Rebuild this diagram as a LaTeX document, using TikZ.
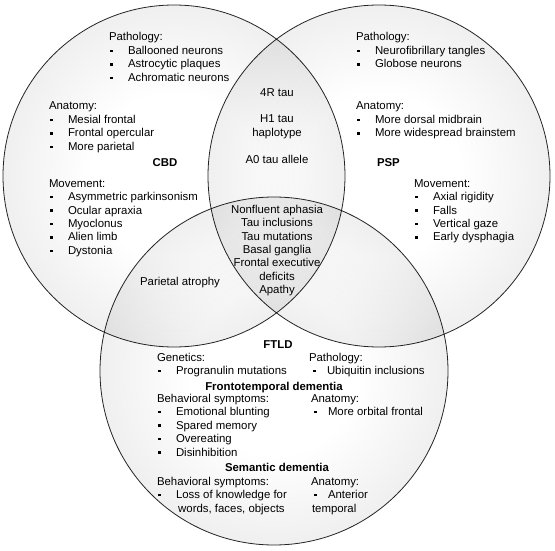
\documentclass[tikz,border=0pt]{standalone}
\usepackage{fontspec}
\setmainfont{Liberation Sans}
\pgfdeclareradialshading{venn}{\pgfpoint{0bp}{0bp}}{color(0bp)=(white); color(12bp)=(white); color(50bp)=(black!18); color(100bp)=(black!18)}
\newcommand\sqb{\rule[2.3pt]{2.6pt}{2.6pt}}
\newcommand\litem[1]{\makebox[19pt][l]{\hspace*{1pt}\sqb}#1}
\newcommand\ritem[1]{\makebox[15pt][l]{\hspace*{1pt}\sqb}#1}
\begin{document}
\begin{tikzpicture}[x=1pt,y=-1pt,
  every node/.style={inner sep=0pt, outer sep=0pt},
  font=\fontsize{11.4}{13.5}\selectfont,
  set/.style={circle, draw=black!85, line width=0.8pt, shading=venn},
  blk/.style={anchor=base west},
  ctr/.style={anchor=base},
  ttl/.style={anchor=base, font=\fontsize{11.4}{13.5}\selectfont\bfseries}]
\useasboundingbox (0,0) rectangle (555,551);
\begin{scope}[blend group=multiply]
  \node[set, minimum size=342pt] (cbd) at (174,176) {};
  \node[set, minimum size=342pt] (psp) at (379,176) {};
  \node[set, minimum size=348pt] (ftld) at (274,371) {};
\end{scope}
% CBD
\node[blk] (cbdpath) at (109,41) {\begin{tabular}[t]{@{}l@{}}Pathology:\\ \litem{Ballooned neurons}\\ \litem{Astrocytic plaques}\\ \litem{Achromatic neurons}\end{tabular}};
\node[blk] (cbdanat) at (49,110) {\begin{tabular}[t]{@{}l@{}}Anatomy:\\ \litem{Mesial frontal}\\ \litem{Frontal opercular}\\ \litem{More parietal}\end{tabular}};
\node[ttl] (cbdlab) at (165,166) {CBD};
\node[blk] (cbdmov) at (49,187) {\begin{tabular}[t]{@{}l@{}}Movement:\\ \litem{Asymmetric parkinsonism}\\ \litem{Ocular apraxia}\\ \litem{Myoclonus}\\ \litem{Alien limb}\\ \litem{Dystonia}\end{tabular}};
% CBD and PSP
\node[ctr] (tau) at (277,96) {\begin{tabular}[t]{@{}c@{}}4R tau\\[13.5pt] H1 tau\\ haplotype\\[13.5pt] A0 tau allele\end{tabular}};
% PSP
\node[blk] (psppath) at (356,41) {\begin{tabular}[t]{@{}l@{}}Pathology:\\ \litem{Neurofibrillary tangles}\\ \litem{Globose neurons}\end{tabular}};
\node[blk] (pspanat) at (356,110) {\begin{tabular}[t]{@{}l@{}}Anatomy:\\ \litem{More dorsal midbrain}\\ \litem{More widespread brainstem}\end{tabular}};
\node[ttl, anchor=base west] (psplab) at (377,166) {PSP};
\node[blk] (pspmov) at (414,187) {\begin{tabular}[t]{@{}l@{}}Movement:\\ \litem{Axial rigidity}\\ \litem{Falls}\\ \litem{Vertical gaze}\\ \litem{Early dysphagia}\end{tabular}};
% all three
\node[ctr] (common) at (277,213) {\begin{tabular}[t]{@{}c@{}}Nonfluent aphasia\\ Tau inclusions\\ Tau mutations\\ Basal ganglia\\ Frontal executive\\ deficits\\ Apathy\end{tabular}};
% CBD and FTLD
\node[ctr] (pariet) at (180,285) {Parietal atrophy};
% FTLD
\node[ttl] (ftldlab) at (278,348) {FTLD};
\node[blk] (gen) at (157,361) {\begin{tabular}[t]{@{}l@{}}Genetics:\\ \litem{Progranulin mutations}\end{tabular}};
\node[blk] (fpath) at (309,361) {\begin{tabular}[t]{@{}l@{}}Pathology:\\ \hspace*{3pt}\ritem{Ubiquitin inclusions}\end{tabular}};
\node[ttl] (ftd) at (274,390) {Frontotemporal dementia};
\node[blk] (ftdbeh) at (157,402) {\begin{tabular}[t]{@{}l@{}}Behavioral symptoms:\\ \litem{Emotional blunting}\\ \litem{Spared memory}\\ \litem{Overeating}\\ \litem{Disinhibition}\end{tabular}};
\node[blk] (ftdanat) at (311,402) {\begin{tabular}[t]{@{}l@{}}Anatomy:\\ \hspace*{2pt}\ritem{More orbital frontal}\end{tabular}};
\node[ttl] (sd) at (277,471) {Semantic dementia};
\node[blk] (sdbeh) at (157,485) {\begin{tabular}[t]{@{}l@{}}Behavioral symptoms:\\ \makebox[19pt][l]{\hspace*{1pt}\sqb}\begin{tabular}[t]{@{}c@{}}Loss of knowledge for\\ words, faces, objects\end{tabular}\end{tabular}};
\node[blk] (sdanat) at (311,485) {\begin{tabular}[t]{@{}l@{}}Anatomy:\\ \hspace*{2pt}\ritem{Anterior}\\ \hspace*{1pt}temporal\end{tabular}};
\end{tikzpicture}
\end{document}
